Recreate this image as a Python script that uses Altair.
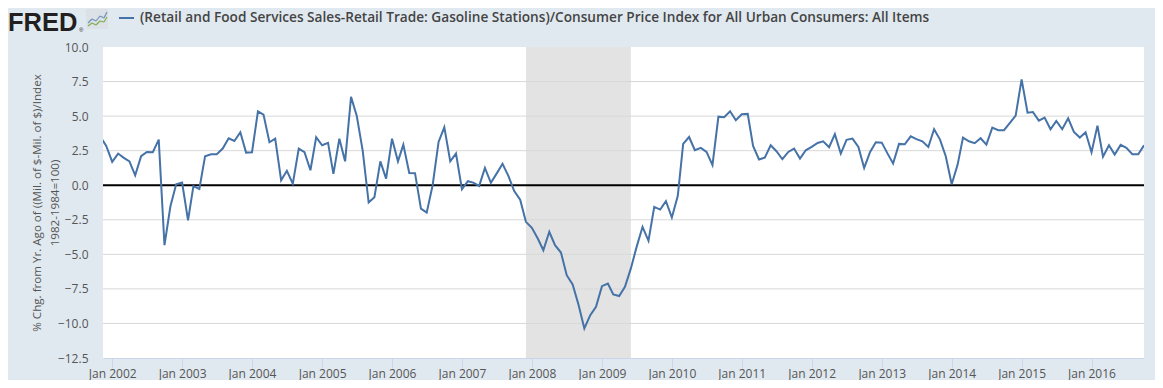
import altair as alt
import pandas as pd

# ---------------- data ----------------
start_month = "2001-11-01"
end_month = "2016-10-01"
values = [
    3.50, 2.84,
    1.69, 2.29, 2.00, 1.73, 0.72, 2.10, 2.41, 2.39, 3.30, -4.34, -1.52, 0.07,
    0.19, -2.55, -0.07, -0.27, 2.10, 2.24, 2.24, 2.65, 3.40, 3.20, 3.83, 2.36,
    2.39, 5.35, 5.11, 3.11, 3.37, 0.36, 1.04, 0.12, 2.65, 2.39, 1.08, 3.47,
    2.89, 3.06, 0.82, 3.37, 1.73, 6.39, 5.01, 2.48, -1.25, -0.87, 1.73, 0.48,
    3.37, 1.73, 2.94, 0.89, 0.87, -1.69, -1.98, 0.00, 3.13, 4.19, 1.73, 2.29,
    -0.29, 0.29, 0.19, -0.05, 1.25, 0.17, 0.84, 1.55, 0.66, -0.42, -1.05, -2.65,
    -3.08, -3.86, -4.70, -3.37, -4.34, -4.87, -6.51, -7.18, -8.67, -10.36, -9.40, -8.80,
    -7.30, -7.11, -7.90, -8.02, -7.35, -6.02, -4.46, -3.01, -4.02, -1.57, -1.76, -1.16,
    -2.34, -0.77, 2.99, 3.49, 2.53, 2.70, 2.41, 1.45, 4.96, 4.92, 5.35, 4.70,
    5.13, 5.16, 2.84, 1.86, 2.00, 2.89, 2.46, 1.88, 2.41, 2.65, 1.93, 2.53,
    2.77, 3.06, 3.18, 2.75, 3.69, 2.29, 3.28, 3.37, 2.77, 1.25, 2.41, 3.11,
    3.08, 2.27, 1.57, 2.99, 2.96, 3.54, 3.33, 3.18, 2.77, 4.05, 3.30, 2.10,
    0.07, 1.49, 3.45, 3.18, 3.04, 3.40, 2.94, 4.17, 3.98, 3.98, 4.51, 5.04,
    7.66, 5.25, 5.30, 4.67, 4.89, 4.05, 4.65, 4.05, 4.84, 3.86, 3.45, 3.83,
    2.39, 4.31, 2.07, 2.89, 2.22, 2.92, 2.70, 2.24, 2.24, 2.89,
]
recession_start = ["2007-12-01"]
recession_end = ["2009-06-01"]
tick_years = list(range(2002, 2017))
y_ticks = [-12.5, -10.0, -7.5, -5.0, -2.5, 0.0, 2.5, 5.0, 7.5, 10.0]
grid_vals = [-10.0, -7.5, -5.0, -2.5, 2.5, 5.0, 7.5]

legend_text = ("(Retail and Food Services Sales-Retail Trade: Gasoline Stations)/"
               "Consumer Price Index for All Urban Consumers: All Items")
y_title = ["% Chg. from Yr. Ago of ((Mil. of $-Mil. of $)/Index", "1982-1984=100)"]

dates = pd.date_range(start_month, end_month, freq="MS").strftime("%Y-%m-%d")
df = pd.DataFrame({"date": list(dates), "value": values})
rec_df = pd.DataFrame({"start": recession_start, "end": recession_end})
grid_df = pd.DataFrame({"v": grid_vals})
zero_df = pd.DataFrame({"v": [0.0]})
one = pd.DataFrame({"a": [0]})

W, H = 1041, 311
FONT = "Open Sans"
LINE_COLOR = "#4572a7"

xscale = alt.Scale(
    type="utc",
    domain=[alt.DateTime(year=2001, month=11, date=14, utc=True),
            alt.DateTime(year=2016, month=10, date=1, utc=True)],
)
yscale = alt.Scale(domain=[-12.5, 10.0], nice=False, zero=False)

x_axis = alt.Axis(
    values=[alt.DateTime(year=y, month=1, date=1, utc=True) for y in tick_years],
    format="%b %Y",
    grid=False,
    domainColor="#ccd6eb",
    tickColor="#ccd6eb",
    tickSize=10,
    labelFont=FONT,
    labelFontSize=12,
    labelColor="#555555",
    labelBaseline="alphabetic",
    labelPadding=9,
    labelOverlap=False,
    labelFlush=False,
)
y_axis = alt.Axis(
    values=y_ticks,
    format=".1f",
    grid=False,
    domain=False,
    ticks=False,
    tickSize=0,
    labelPadding=15,
    labelFont=FONT,
    labelFontSize=12,
    labelColor="#555555",
    title=y_title,
    titleFont=FONT,
    titleFontSize=11.6,
    titleFontWeight="normal",
    titleColor="#555555",
    titleAngle=-90,
    titleAlign="center",
    titleBaseline="middle",
    titleLineHeight=18,
    titleX=-66,
    titleY=H / 2,
)

recession = alt.Chart(rec_df).mark_rect(color="#e3e3e3").encode(
    x=alt.X("start:T", scale=xscale, axis=x_axis, title=None),
    x2="end:T",
    y=alt.value(0),
    y2=alt.value(H),
)

grid = alt.Chart(grid_df).mark_rule(color="#d8d8d8", strokeWidth=1).encode(
    y=alt.Y("v:Q", scale=yscale, axis=y_axis)
)

zero = alt.Chart(zero_df).mark_rule(color="#000000", strokeWidth=2).encode(
    y=alt.Y("v:Q", scale=yscale, axis=y_axis)
)

line = alt.Chart(df).mark_line(color=LINE_COLOR, strokeWidth=2, clip=True).encode(
    x=alt.X("date:T", scale=xscale, axis=x_axis, title=None),
    y=alt.Y("value:Q", scale=yscale, axis=y_axis),
)

# ---------------- header (logo + legend) ----------------
logo = alt.Chart(one).mark_text(
    font="Liberation Sans", fontSize=25.5, fontWeight="bold", color="#231f20",
    align="left", baseline="alphabetic",
).encode(x=alt.value(-95), y=alt.value(-16), text=alt.value("FRED"))

reg = alt.Chart(one).mark_text(
    font="Liberation Sans", fontSize=6, color="#231f20", align="left",
    baseline="alphabetic",
).encode(x=alt.value(-24), y=alt.value(-15), text=alt.value("®"))

icon_box = alt.Chart(one).mark_rule(color="#dbe1e6", strokeWidth=20, strokeCap="butt").encode(
    x=alt.value(-17), x2=alt.value(5), y=alt.value(-28), y2=alt.value(-28)
)

icon_blue = [(-15, -24), (-11, -28), (-7, -26), (-3, -31), (1, -29), (4, -35)]
icon_green = [(-15, -21), (-11, -24), (-7, -22), (-3, -26), (1, -25), (4, -30)]


def segs(points, color):
    out = []
    for (x1, y1), (x2, y2) in zip(points[:-1], points[1:]):
        out.append(
            alt.Chart(one).mark_rule(color=color, strokeWidth=1.2).encode(
                x=alt.value(x1), x2=alt.value(x2), y=alt.value(y1), y2=alt.value(y2)
            )
        )
    return out


legend_swatch = alt.Chart(one).mark_rule(color=LINE_COLOR, strokeWidth=2).encode(
    x=alt.value(16), x2=alt.value(31), y=alt.value(-29), y2=alt.value(-29)
)
legend_label = alt.Chart(one).mark_text(
    font=FONT, fontSize=13.65, fontWeight=600, color="#444444",
    align="left", baseline="middle",
).encode(x=alt.value(37), y=alt.value(-29), text=alt.value(legend_text))

layers = [recession, grid, zero, line, logo, reg, icon_box]
layers += segs(icon_blue, "#6f93b8") + segs(icon_green, "#7fae4f")
layers += [legend_swatch, legend_label]

chart = alt.layer(*layers).properties(
    width=W,
    height=H,
    padding={"left": 95, "top": 39, "right": 11, "bottom": 22},
    autosize=alt.AutoSizeParams(type="none"),
    background="#e1e9f0",
).configure_view(fill="white", strokeWidth=0)

chart.save("out.html", embed_options={"renderer": "svg", "actions": False})
